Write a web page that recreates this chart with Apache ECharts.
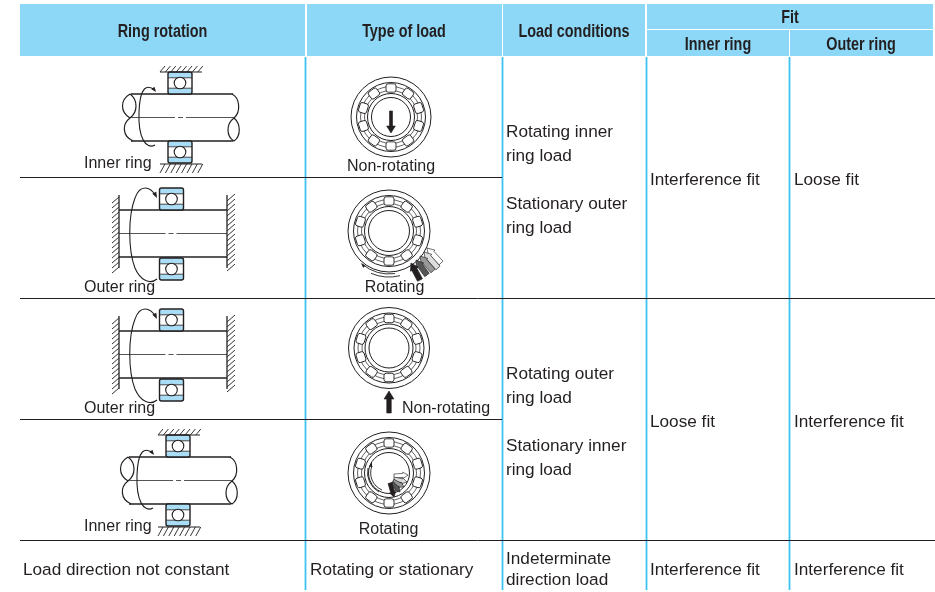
<!DOCTYPE html>
<html>
<head>
<meta charset="utf-8">
<title>Ring rotation and fit</title>
<style>
  html, body { margin: 0; padding: 0; background: #fff; }
  #chart { width: 935px; height: 592px; }
</style>
<script src="https://cdn.jsdelivr.net/npm/echarts@6/dist/echarts.min.js"></script>
</head>
<body>
<div id="chart"></div>
<script>
const headTop = ['Ring rotation', 'Type of load', 'Load conditions'];
const fitTitle = 'Fit';
const fitHeads = ['Inner ring', 'Outer ring'];
const ringLabels = ['Inner ring', 'Outer ring', 'Outer ring', 'Inner ring'];
const loadLabels = ['Non-rotating', 'Rotating', 'Non-rotating', 'Rotating'];
const conditions = [
  ['Rotating inner', 'ring load', 'Stationary outer', 'ring load'],
  ['Rotating outer', 'ring load', 'Stationary inner', 'ring load'],
];
const innerFits = ['Interference fit', 'Loose fit', 'Interference fit'];
const outerFits = ['Loose fit', 'Interference fit', 'Interference fit'];
const lastRow = ['Load direction not constant', 'Rotating or stationary', 'Indeterminate', 'direction load'];

const BLUE = '#8dd7f7';
const CYAN = '#3cc4f1';
const INK = '#231f20';
const SANS = '"Liberation Sans", Arial, sans-serif';
const BODY = 17.2;
const LABEL = 16;

const g = [];
let pathCount = 0;

const rect = (x, y, w, h, fill, r) => g.push({ type: 'rect', shape: { x, y, width: w, height: h, r: r || 0 }, style: { fill, stroke: null } });
const line = (x1, y1, x2, y2, stroke, w) => g.push({ type: 'line', shape: { x1, y1, x2, y2 }, style: { stroke: stroke || INK, lineWidth: w || 1 } });
// the graphic component has no plain svg path type, so register each one
const path = (d, fill, w) => {
  const name = 'svgPath' + pathCount++;
  echarts.graphic.registerShape(name, echarts.graphic.extendPath(d, {}));
  g.push({
    type: name,
    style: { fill: fill || 'none', stroke: INK, lineWidth: w === undefined ? 1 : w, lineJoin: 'round' },
  });
};
const circle = (cx, cy, r, fill, w) => g.push({ type: 'circle', shape: { cx, cy, r }, style: { fill: fill || 'none', stroke: INK, lineWidth: w || 1 } });
const text = (t, x, y, size, align) => g.push({
  type: 'text',
  style: {
    text: t, x, y: y + 1, fill: INK,
    font: size + 'px ' + SANS,
    textAlign: align || 'left', textVerticalAlign: 'middle',
  },
});
// condensed bold header text, no narrow face is installed
const headText = (t, x, y) => g.push({
  type: 'text',
  x, y, scaleX: 0.8,
  style: {
    text: t, x: 0, y: 0, fill: INK,
    font: 'bold 18px ' + SANS,
    textAlign: 'center', textVerticalAlign: 'middle',
  },
});

// header blocks
rect(20, 4, 285, 52, BLUE);
rect(307, 4, 195, 52, BLUE);
rect(503, 4, 142, 52, BLUE);
rect(647, 4, 286, 25, BLUE);
rect(647, 30, 142, 26, BLUE);
rect(790, 30, 143, 26, BLUE);
headText(headTop[0], 162.5, 32.5);
headText(headTop[1], 404, 32.5);
headText(headTop[2], 574, 32.5);
headText(fitTitle, 790, 18.5);
headText(fitHeads[0], 718, 45.5);
headText(fitHeads[1], 861, 45.5);

// table rules
[305.5, 502.5, 646.5, 789.5].forEach((x) => line(x, 57, x, 590, CYAN, 1.8));
line(20, 177.5, 502, 177.5);
line(20, 298.5, 935, 298.5);
line(20, 419.5, 502, 419.5);
line(20, 540.5, 935, 540.5);

// one ball bearing section, top-left corner at x,y
function bearing(x, y) {
  rect(x, y, 24, 22, '#fff', 2);
  rect(x, y, 24, 5.8, '#a9dcf5', 2);
  rect(x, y + 16.2, 24, 5.8, '#a9dcf5', 2);
  g.push({ type: 'rect', shape: { x, y, width: 24, height: 22, r: 2 }, style: { fill: 'none', stroke: INK, lineWidth: 1.4 } });
  line(x, y + 5.8, x + 24, y + 5.8, INK, 0.8);
  line(x, y + 16.2, x + 24, y + 16.2, INK, 0.8);
  circle(x + 12, y + 11, 5.8, '#fff', 1.1);
}

function centerLine(x1, x2, y) {
  const m = (x1 + x2) / 2 - 1.5;
  line(x1, y, m - 6, y, '#555', 1);
  line(m - 3, y, m + 2, y, '#555', 1);
  line(m + 5, y, x2, y, '#555', 1);
}

function arrowHead(x, y, ang, len, wid) {
  const c = Math.cos(ang), s = Math.sin(ang);
  const bx = x - c * len, by = y - s * len;
  g.push({
    type: 'polygon',
    shape: { points: [[x, y], [bx - s * wid / 2, by + c * wid / 2], [bx + s * wid / 2, by - c * wid / 2]] },
    style: { fill: INK, stroke: null },
  });
}

// shaft carried by the inner ring, fixed outer ring
function innerDiagram(dx, dy, label) {
  const X = (v) => v + dx, Y = (v) => v + dy;
  line(X(131), Y(94), X(233), Y(94), INK, 1.3);
  line(X(131), Y(141), X(233), Y(141), INK, 1.3);
  path(`M${X(130)} ${Y(94)} C${X(120)} ${Y(100)} ${X(120)} ${Y(112)} ${X(130)} ${Y(118)} C${X(138)} ${Y(112)} ${X(138)} ${Y(100)} ${X(130)} ${Y(94)}`, '#fff', 1.2);
  path(`M${X(130)} ${Y(118)} C${X(122)} ${Y(124)} ${X(122)} ${Y(136)} ${X(133)} ${Y(141)}`, null, 1.2);
  path(`M${X(232)} ${Y(94)} C${X(240)} ${Y(98)} ${X(241)} ${Y(112)} ${X(234)} ${Y(118)}`, null, 1.2);
  path(`M${X(234)} ${Y(118)} C${X(226)} ${Y(124)} ${X(226)} ${Y(136)} ${X(234)} ${Y(141)} C${X(241)} ${Y(136)} ${X(241)} ${Y(124)} ${X(234)} ${Y(118)}`, null, 1.2);
  centerLine(X(131), X(234), Y(117.5));
  bearing(X(168), Y(72));
  bearing(X(168), Y(141));
  line(X(160), Y(72), X(202), Y(72), INK, 1);
  for (let i = 0; i < 8; i++) {
    line(X(160 + i * 5.4), Y(72), X(165 + i * 5.4), Y(66), INK, 0.9);
    line(X(160 + i * 5.4), Y(173), X(165 + i * 5.4), Y(164), INK, 0.9);
  }
  line(X(160), Y(164), X(202), Y(164), INK, 1);
  path(`M${X(155)} ${Y(90)} C${X(147)} ${Y(84)} ${X(140)} ${Y(86)} ${X(139)} ${Y(112)} C${X(138)} ${Y(138)} ${X(146)} ${Y(150)} ${X(155)} ${Y(145)}`, null, 1.1);
  arrowHead(X(156), Y(92), 0.9, 5, 4);
  text(label, 84, Y(163), LABEL);
}

// fixed shaft, rotating outer ring
function outerDiagram(dy, label) {
  const Y = (v) => v + dy;
  line(119, Y(210), 227, Y(210), INK, 1.3);
  line(119, Y(257), 227, Y(257), INK, 1.3);
  centerLine(119, 227, Y(233.5));
  line(119, Y(195), 119, Y(268), INK, 1.3);
  line(227, Y(195), 227, Y(268), INK, 1.3);
  for (let i = 0; i < 15; i++) {
    line(119, Y(197 + i * 5), 112, Y(203 + i * 5), '#333', 1);
    line(227, Y(201 + i * 5), 235, Y(194 + i * 5), '#333', 1);
  }
  bearing(159.5, Y(188));
  bearing(159.5, Y(258));
  path(`M156 ${Y(196)} C150 ${Y(186)} 140 ${Y(184)} 135 ${Y(198)} C128 ${Y(216)} 128 ${Y(250)} 135 ${Y(268)} C140 ${Y(280)} 150 ${Y(285)} 157 ${Y(279)}`, null, 1.1);
  arrowHead(157, Y(198), 1.1, 6, 4.5);
  text(label, 84, Y(287), LABEL);
}

// radial view of a bearing, rollers drawn around the cage
function ringView(cx, cy, R) {
  circle(cx, cy, R, '#fff', 1);
  circle(cx, cy, R - 5.5, '#fff', 1);
  circle(cx, cy, R - 9.5, 'none', 0.7);
  circle(cx, cy, R - 13.5, 'none', 0.7);
  for (let i = 0; i < 10; i++) {
    const a = i * 36 * Math.PI / 180;
    g.push({
      type: 'rect',
      shape: { x: -5, y: -4.2, width: 10, height: 8.4, r: 2.2 },
      x: cx + Math.sin(a) * (R - 11),
      y: cy - Math.cos(a) * (R - 11),
      rotation: -a,
      style: { fill: '#fff', stroke: INK, lineWidth: 0.9 },
    });
  }
  circle(cx, cy, R - 16.5, '#fff', 1);
  circle(cx, cy, R - 20.5, '#fff', 1);
}

// arrow from tail to tip
function solidArrow(tailX, tailY, x, y, wid, head, fill) {
  const len = Math.hypot(x - tailX, y - tailY);
  const ang = Math.atan2(y - tailY, x - tailX);
  g.push({
    type: 'polygon',
    shape: { points: [[0, 0], [-head, -head * 0.62], [-head, -wid / 2], [-len, -wid / 2], [-len, wid / 2], [-head, wid / 2], [-head, head * 0.62]] },
    x, y, rotation: -ang,
    style: { fill, stroke: INK, lineWidth: 0.6 },
  });
}

// panels
innerDiagram(0, 0, ringLabels[0]);
outerDiagram(0, ringLabels[1]);
outerDiagram(121, ringLabels[2]);
innerDiagram(-2, 363, ringLabels[3]);

ringView(391, 117, 40);
solidArrow(391, 111, 391, 133, 3, 7, INK);
text(loadLabels[0], 391, 166, LABEL, 'center');

ringView(389, 231, 41);
[
  [441, 263, 427, 248, '#fff'],
  [438, 268, 424, 252, '#ddd'],
  [433, 271, 420, 256, '#999'],
  [427, 275, 416, 260, '#555'],
  [420, 280, 411, 263, INK],
].forEach((a) => solidArrow(a[0], a[1], a[2], a[3], 5.5, 7, a[4]));
path('M362 264 A43 43 0 0 0 395 273.6', null, 0.9);
path('M371 273.3 A46 46 0 0 0 400 275.7', null, 0.9);
arrowHead(361, 263, -2.3, 5, 3);
text(loadLabels[1], 394.5, 287, LABEL, 'center');

ringView(389, 348, 40.5);
solidArrow(389, 413, 389, 391, 4.5, 8, INK);
text(loadLabels[2], 402, 408, LABEL);

ringView(389, 473, 41);
[
  [394, 476, 408, 475, '#fff'],
  [394, 479, 407, 482, '#ddd'],
  [393, 481, 404, 487, '#999'],
  [392, 483, 400, 492, '#555'],
  [390, 483, 394, 497, INK],
].forEach((a) => solidArrow(a[0], a[1], a[2], a[3], 4, 5, a[4]));
path('M368 468 A22 22 0 0 0 379 492', null, 0.9);
path('M372 466 A18.5 18.5 0 0 0 382 490', null, 0.9);
arrowHead(372, 462, -1.3, 5, 3);
text(loadLabels[3], 388.5, 529, LABEL, 'center');

// text columns
conditions.forEach((c, i) => {
  const y0 = i * 242;
  text(c[0], 506, 131 + y0, BODY);
  text(c[1], 506, 155 + y0, BODY);
  text(c[2], 506, 203 + y0, BODY);
  text(c[3], 506, 227 + y0, BODY);
  text(innerFits[i], 650, 179 + y0, BODY);
  text(outerFits[i], 794, 179 + y0, BODY);
});
text(lastRow[0], 23, 569, BODY);
text(lastRow[1], 310, 569, BODY);
text(lastRow[2], 506, 558, BODY);
text(lastRow[3], 506, 579, BODY);
text(innerFits[2], 650, 569, BODY);
text(outerFits[2], 794, 569, BODY);

const chart = echarts.init(document.getElementById('chart'), null, { renderer: 'canvas' });
chart.setOption({
  animation: false,
  backgroundColor: '#fff',
  graphic: { elements: g.map((e) => Object.assign({ silent: true }, e)) },
});
</script>
</body>
</html>
